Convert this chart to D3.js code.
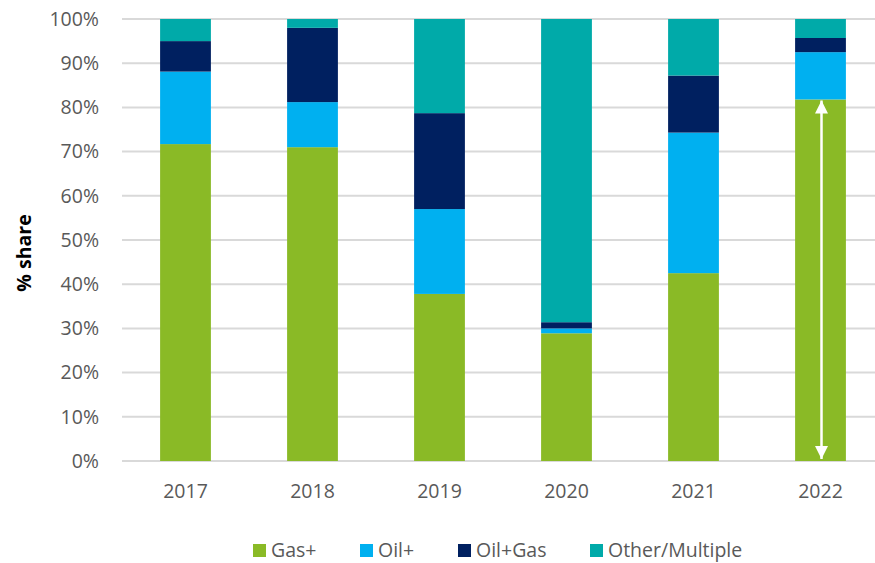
<!DOCTYPE html>
<html>
<head>
<meta charset="utf-8">
<script src="https://cdn.jsdelivr.net/npm/d3@7"></script>
<style>
  body { margin: 0; background: #fff; }
  text { font-family: "Open Sans", sans-serif; }
</style>
</head>
<body>
<div id="main_div"></div>
<script>
var years = ["2017", "2018", "2019", "2020", "2021", "2022"];
var gas = [71.7, 71.0, 37.8, 28.9, 42.5, 81.8];
var oil = [16.4, 10.2, 19.2, 1.1, 31.8, 10.7];
var oilGas = [6.9, 16.8, 21.7, 1.4, 12.9, 3.2];
var other = [5.0, 2.0, 21.3, 68.6, 12.8, 4.3];
var seriesNames = ["Gas+", "Oil+", "Oil+Gas", "Other/Multiple"];
var colors = ["#8aba26", "#00b0f0", "#002060", "#00aaa9"];
var yTicks = [0, 10, 20, 30, 40, 50, 60, 70, 80, 90, 100];

var rows = years.map(function(y, i) {
    return {year: y, "Gas+": gas[i], "Oil+": oil[i], "Oil+Gas": oilGas[i], "Other/Multiple": other[i]};
});
var stacked = d3.stack().keys(seriesNames)(rows);

var width = 875, height = 563;
var x_scale = d3.scaleBand().domain(years).range([122, 884]).paddingInner(0.6).paddingOuter(0.3);
var y_scale = d3.scaleLinear().domain([0, 100]).range([461, 19]);
var color = d3.scaleOrdinal().domain(seriesNames).range(colors);

var svg = d3.select("#main_div").append("svg").attr("width", width).attr("height", height);

// gridlines
svg.append("g").selectAll("line").data(yTicks).enter().append("line")
    .attr("x1", 122).attr("x2", width)
    .attr("y1", function(d) { return y_scale(d); })
    .attr("y2", function(d) { return y_scale(d); })
    .attr("stroke", "#d9d9d9").attr("stroke-width", 2);

// y tick labels
svg.append("g").selectAll("text").data(yTicks).enter().append("text")
    .attr("x", 99)
    .attr("y", function(d) { return y_scale(d); })
    .attr("dy", "0.35em")
    .attr("text-anchor", "end")
    .attr("font-size", 19.5)
    .attr("fill", "#595959")
    .text(function(d) { return d + "%"; });

// bars
var layers = svg.append("g").selectAll("g").data(stacked).enter().append("g")
    .attr("fill", function(d) { return color(d.key); });
layers.selectAll("rect").data(function(d) { return d; }).enter().append("rect")
    .attr("x", function(d) { return x_scale(d.data.year); })
    .attr("width", x_scale.bandwidth())
    .attr("y", function(d) { return y_scale(d[1]); })
    .attr("height", function(d) { return y_scale(d[0]) - y_scale(d[1]); });

// x labels
svg.append("g").selectAll("text").data(years).enter().append("text")
    .attr("x", function(d) { return x_scale(d) + x_scale.bandwidth() / 2; })
    .attr("y", 498)
    .attr("text-anchor", "middle")
    .attr("font-size", 19.5)
    .attr("fill", "#595959")
    .text(function(d) { return d; });

// y axis title
svg.append("text")
    .attr("transform", "translate(31,253) rotate(-90)")
    .attr("text-anchor", "middle")
    .attr("font-size", 19.5)
    .attr("font-weight", "bold")
    .attr("fill", "#000")
    .text("% share");

// double-headed arrow on 2022 gas bar
var ax = x_scale("2022") + x_scale.bandwidth() / 2 + 1;
var defs = svg.append("defs");
defs.append("marker").attr("id", "head")
    .attr("viewBox", "0 0 10 10").attr("refX", 10).attr("refY", 5)
    .attr("markerUnits", "userSpaceOnUse")
    .attr("markerWidth", 18).attr("markerHeight", 13).attr("orient", "auto-start-reverse")
    .append("path").attr("d", "M0,0 L10,5 L0,10 Z").attr("fill", "#fff");
svg.append("line")
    .attr("x1", ax).attr("x2", ax)
    .attr("y1", y_scale(gas[5]) + 1).attr("y2", y_scale(0) - 2)
    .attr("stroke", "#fff").attr("stroke-width", 2.5)
    .attr("marker-start", "url(#head)").attr("marker-end", "url(#head)");

// legend
var legendX = [253, 360, 458, 590];
var lg = svg.append("g").selectAll("g").data(seriesNames).enter().append("g")
    .attr("transform", function(d, i) { return "translate(" + legendX[i] + ",544)"; });
lg.append("rect").attr("width", 13).attr("height", 13)
    .attr("fill", function(d) { return color(d); });
lg.append("text").attr("x", 18).attr("y", 13)
    .attr("font-size", 19.5).attr("fill", "#595959")
    .text(function(d) { return d; });
</script>
</body>
</html>
